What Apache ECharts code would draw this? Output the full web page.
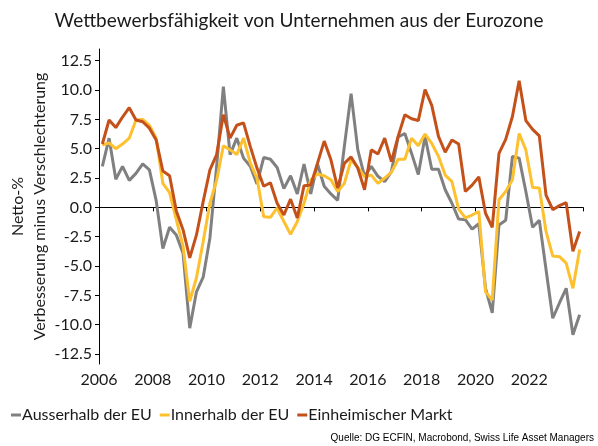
<!DOCTYPE html>
<html>
<head>
<meta charset="utf-8">
<script src="https://cdn.jsdelivr.net/npm/echarts@6/dist/echarts.min.js"></script>
<style>
html,body{margin:0;padding:0;background:#fff;}
#chart{width:598px;height:446px;}
</style>
</head>
<body>
<div id="chart"></div>
<script>
// Quarterly data, 2006 Q1 .. 2023 Q4
var startYear = 2006;
var ausserhalbEU = [3.5,5.9,2.4,3.5,2.3,2.9,3.7,3.2,0.6,-3.5,-1.7,-2.35,-3.9,-10.3,-7.2,-5.95,-2.6,3.5,10.3,4.5,5.9,4.2,3.5,2.0,
  4.25,4.1,3.4,1.6,2.7,1.15,3.7,1.15,3.7,1.8,1.15,0.6,5.2,9.7,4.9,2.65,3.5,2.65,2.2,3.05,6.0,6.3,4.6,2.8,
  6.05,3.25,3.25,1.5,0.35,-1.0,-1.05,-1.85,-1.4,-6.9,-9.0,-1.5,-1.1,4.35,4.2,1.35,-1.7,-1.1,-5.3,-9.45,-8.15,-6.9,-10.85,-9.15];
var innerhalbEU = [5.3,5.5,5.0,5.4,5.9,7.45,7.5,7.0,5.9,2.05,1.25,-1.05,-3.3,-8.0,-6.0,-2.9,0.35,2.3,5.25,4.9,4.5,5.9,3.8,2.5,
  -0.8,-0.85,-0.05,-1.2,-2.3,-1.2,0.35,2.35,2.85,2.7,2.35,1.35,2.05,4.05,3.4,2.6,2.75,2.05,2.5,3.0,4.1,4.1,5.9,5.25,
  6.25,5.45,4.35,2.75,2.2,-0.15,-0.9,-0.65,-0.35,-7.2,-7.9,0.65,1.35,2.35,6.3,4.9,1.7,1.65,-2.05,-4.15,-4.2,-4.75,-6.9,-3.6];
var einheimisch = [5.4,7.45,6.8,7.7,8.5,7.45,7.3,6.75,5.75,3.1,2.7,-0.3,-1.9,-4.3,-2.35,0.5,3.2,4.5,7.9,5.9,7.0,7.2,5.2,3.35,
  1.8,2.1,0.35,-0.65,0.7,-0.9,1.85,1.9,3.75,5.65,4.05,1.65,3.75,4.3,3.35,1.5,4.9,4.55,5.9,3.9,6.05,7.9,7.55,7.4,
  10.05,8.7,6.05,4.7,5.75,5.4,1.35,1.9,2.6,-0.5,-1.7,4.6,5.8,7.75,10.8,7.4,6.65,6.1,1.05,-0.2,0.15,0.4,-3.75,-2.05];
var seriesNames = ['Ausserhalb der EU','Innerhalb der EU','Einheimischer Markt'];
var xTickYears = [2006,2008,2010,2012,2014,2016,2018,2020,2022,2024];
var xLabelYears = [2006,2008,2010,2012,2014,2016,2018,2020,2022];
var yTicks = [-12.5,-10,-7.5,-5,-2.5,0,2.5,5,7.5,10,12.5];

function toPairs(arr){
  return arr.map(function(v,i){ return [startYear + (i + 0.5)/4, v]; });
}

var font = 'Lato, "Noto Sans", sans-serif';
var chart = echarts.init(document.getElementById('chart'), null, {renderer:'canvas'});
chart.setOption({
  animation:false,
  backgroundColor:'#fff',
  title:{
    text:'Wettbewerbsfähigkeit von Unternehmen aus der Eurozone',
    left:'center', top:6,
    textStyle:{fontFamily:font, fontSize:19, fontWeight:'normal', color:'#1a1a1a'}
  },
  legend:{
    left:6, top:402, itemGap:8, itemWidth:10, itemHeight:3, icon:'rect',
    textStyle:{fontFamily:font, fontSize:16, color:'#1a1a1a', padding:[0,0,0,-4]},
    data:seriesNames
  },
  grid:{left:99, right:15, top:49, bottom:82, outerBoundsMode:'none', containLabel:false},
  xAxis:{
    type:'value', min:2006, max:2024,
    axisLine:{lineStyle:{color:'#000', width:1}},
    axisTick:{show:true, length:4, customValues:xTickYears, lineStyle:{color:'#000'}},
    axisLabel:{customValues:xLabelYears, fontFamily:font, fontSize:16, color:'#1a1a1a', margin:8,
      formatter:function(v){return String(v);}},
    splitLine:{show:false}
  },
  yAxis:{
    type:'value', min:-13.35, max:13.5,
    name:'Netto-%\nVerbesserung minus Verschlechterung',
    nameLocation:'middle', nameGap:48, nameRotate:90, nameMoveOverlap:false,
    nameTextStyle:{fontFamily:font, fontSize:16, color:'#1a1a1a', lineHeight:22},
    axisLine:{show:true, lineStyle:{color:'#000', width:1}},
    axisTick:{show:true, length:4, customValues:yTicks, lineStyle:{color:'#000'}},
    axisLabel:{customValues:yTicks, fontFamily:font, fontSize:16, color:'#1a1a1a', margin:7,
      formatter:function(v){return v.toFixed(1);}},
    splitLine:{show:false}
  },
  series:[
    {name:seriesNames[0], type:'line', data:toPairs(ausserhalbEU), showSymbol:false, symbol:'none',
     lineStyle:{color:'#808080', width:3}, itemStyle:{color:'#808080'}, z:2,
     markLine:{silent:true, symbol:'none', label:{show:false}, lineStyle:{color:'#000', width:1, type:'solid'}, data:[{yAxis:0}], z:1}},
    {name:seriesNames[1], type:'line', data:toPairs(innerhalbEU), showSymbol:false, symbol:'none',
     lineStyle:{color:'#FDC02F', width:3}, itemStyle:{color:'#FDC02F'}, z:3},
    {name:seriesNames[2], type:'line', data:toPairs(einheimisch), showSymbol:false, symbol:'none',
     lineStyle:{color:'#C4511A', width:3}, itemStyle:{color:'#C4511A'}, z:4}
  ],
  graphic:[{
    type:'text', right:4, bottom:3,
    style:{text:'Quelle: DG ECFIN, Macrobond, Swiss Life Asset Managers', font:'10px "Liberation Sans", Arial, sans-serif', fill:'#000'}
  }]
});
</script>
</body>
</html>
